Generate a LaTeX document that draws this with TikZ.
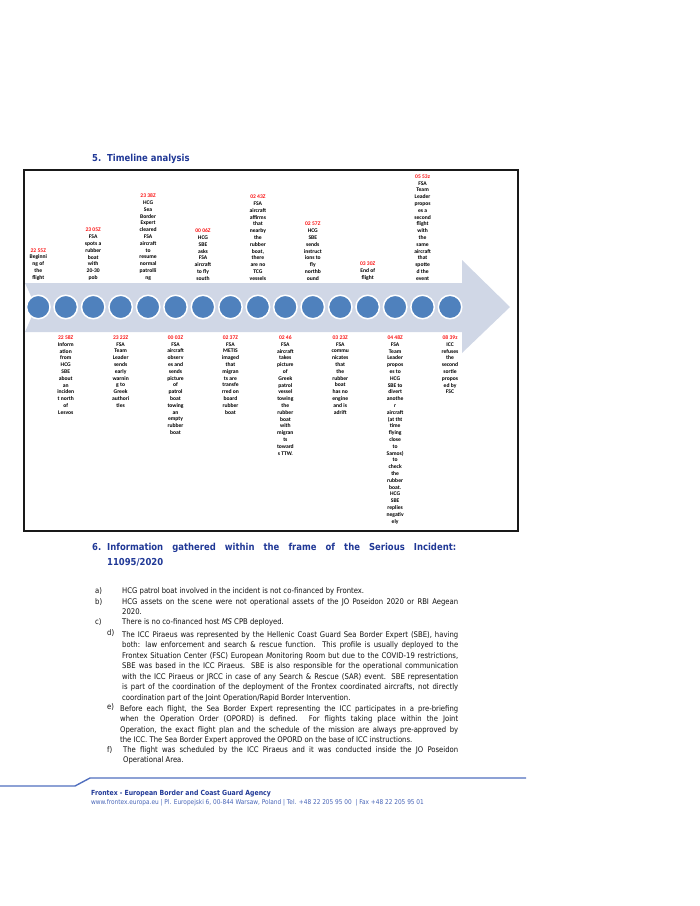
\documentclass[tikz,border=0pt]{standalone}
\usepackage{fontspec}
\setmainfont{DejaVu Sans}
\newfontfamily\bodyf[FakeStretch=0.88]{DejaVu Sans}
\newfontfamily\calib{Carlito}
\definecolor{fxblue}{RGB}{32,56,150}
\definecolor{footblue}{RGB}{80,110,190}
\definecolor{arrowc}{RGB}{208,215,230}
\definecolor{dotc}{RGB}{79,129,189}
\definecolor{tred}{RGB}{250,20,20}
\definecolor{bodyc}{RGB}{15,15,15}
\newcommand{\ts}[1]{\textcolor{tred}{#1}}
\begin{document}
\begin{tikzpicture}[x=1pt,y=-1pt,
  heading/.style={font=\bodyf\bfseries\fontsize{9.6}{12}\selectfont, text=fxblue, inner sep=0, anchor=base west},
  frame/.style={draw=black!90, line width=1.6pt},
  dot/.style={circle, fill=dotc, draw=white, line width=1.5pt, minimum size=23.5pt, inner sep=0},
  lbl/.style={font=\calib\bfseries\fontsize{5.6}{6.8}\selectfont, align=center, inner sep=0, text=black},
  uplbl/.style={lbl, anchor=south},
  dnlbl/.style={lbl, anchor=north},
  body/.style={font=\bodyf\fontsize{7.8}{10}\selectfont, text=bodyc, inner sep=0, anchor=base west},
  footl/.style={draw=footblue, line width=1.4pt},
  foot/.style={font=\bodyf\fontsize{6.6}{8}\selectfont, text=fxblue, inner sep=0, anchor=base west}
]
\useasboundingbox (0,0) rectangle (700,906);

% heading 5
\node[heading] (h5n) at (92,161) {5.};
\node[heading] (h5t) at (107,161) {Timeline analysis};

% frame
\draw[frame] (24,170) rectangle (518,531);

% arrow
\path[fill=arrowc] (25,283) -- (462,283) -- (462,260) -- (510,307) -- (462,353) -- (462,332) -- (25,332) -- (36,307) -- cycle;

% circles
\foreach \i in {1,...,16} {
  \node[dot] (c\i) at ({38.3+27.45*(\i-1)},307) {};
}

% upper labels
\node[uplbl] (l1) at (38.3,280.5) {\ts{22 55Z}\\Beginni\\ng of\\the\\flight};
\node[uplbl] (l3) at (93.2,280.5) {\ts{23 05Z}\\FSA\\spots a\\rubber\\boat\\with\\20-30\\pob};
\node[uplbl] (l5) at (148.1,280.5) {\ts{23 38Z}\\HCG\\Sea\\Border\\Expert\\cleared\\FSA\\aircraft\\to\\resume\\normal\\patrolli\\ng};
\node[uplbl] (l7) at (203.0,280.5) {\ts{00 06Z}\\HCG\\SBE\\asks\\FSA\\aircraft\\to fly\\south};
\node[uplbl] (l9) at (257.9,280.5) {\ts{02 43Z}\\FSA\\aircraft\\affirms\\that\\nearby\\the\\rubber\\boat,\\there\\are no\\TCG\\vessels};
\node[uplbl] (l11) at (312.8,280.5) {\ts{02 57Z}\\HCG\\SBE\\sends\\instruct\\ions to\\fly\\northb\\ound};
\node[uplbl] (l13) at (367.7,280.5) {\ts{03 30Z}\\End of\\flight};
\node[uplbl] (l15) at (422.6,280.5) {\ts{05 53z}\\FSA\\Team\\Leader\\propos\\es a\\second\\flight\\with\\the\\same\\aircraft\\that\\spotte\\d the\\event};

% lower labels
\node[dnlbl] (l2) at (65.75,335.5) {\ts{22 58Z}\\Inform\\ation\\from\\HCG\\SBE\\about\\an\\inciden\\t north\\of\\Lesvos};
\node[dnlbl] (l4) at (120.65,335.5) {\ts{23 22Z}\\FSA\\Team\\Leader\\sends\\early\\warnin\\g to\\Greek\\authori\\ties};
\node[dnlbl] (l6) at (175.55,335.5) {\ts{00 03Z}\\FSA\\aircraft\\observ\\es and\\sends\\picture\\of\\patrol\\boat\\towing\\an\\empty\\rubber\\boat};
\node[dnlbl] (l8) at (230.45,335.5) {\ts{02 37Z}\\FSA\\METIS\\imaged\\that\\migran\\ts are\\transfe\\rred on\\board\\rubber\\boat};
\node[dnlbl] (l10) at (285.35,335.5) {\ts{02 46}\\FSA\\aircraft\\takes\\picture\\of\\Greek\\patrol\\vessel\\towing\\the\\rubber\\boat\\with\\migran\\ts\\toward\\s TTW.};
\node[dnlbl] (l12) at (340.25,335.5) {\ts{03 23Z}\\FSA\\commu\\nicates\\that\\the\\rubber\\boat\\has no\\engine\\and is\\adrift};
\node[dnlbl] (l14) at (395.15,335.5) {\ts{04 48Z}\\FSA\\Team\\Leader\\propos\\es to\\HCG\\SBE to\\divert\\anothe\\r\\aircraft\\(at tht\\time\\flying\\close\\to\\Samos)\\to\\check\\the\\rubber\\boat.\\HCG\\SBE\\replies\\negativ\\ely};
\node[dnlbl] (l16) at (450.05,335.5) {\ts{08 39z}\\ICC\\refuses\\the\\second\\sortie\\propos\\ed by\\FSC};

% heading 6
\node[heading] (h6n) at (92,550.5) {6.};
\node[heading] (h6a) at (107,550.5) {\makebox[349pt][s]{Information gathered within the frame of the Serious Incident:}};
\node[heading] (h6b) at (107,565.5) {11095/2020};

% items
\node[body] (ia) at (95,593.8) {a)};
\node[body] (ta1) at (122,593.8) {HCG patrol boat involved in the incident is not co-financed by Frontex.};
\node[body] (ib) at (95,604) {b)};
\node[body] (tb1) at (122,604) {\makebox[336pt][s]{HCG assets on the scene were not operational assets of the JO Poseidon 2020 or RBI Aegean}};
\node[body] (tb2) at (122,614.3) {2020.};
\node[body] (ic) at (95,624.8) {c)};
\node[body] (tc1) at (122,624.8) {There is no co-financed host \textit{MS} CPB deployed.};
\node[body] (id) at (107,635.5) {d)};
\node[body] (td1) at (122,637.3) {\makebox[336pt][s]{The ICC Piraeus was represented by the Hellenic Coast Guard Sea Border Expert (SBE), having}};
\node[body] (td2) at (122,647.8) {\makebox[336pt][s]{both: law enforcement and search \& rescue function. This profile is usually deployed to the}};
\node[body] (td3) at (122,658.3) {\makebox[336pt][s]{Frontex Situation Center (FSC) European \textit{M}onitoring Room but due to the COVID-19 restrictions,}};
\node[body] (td4) at (122,668.8) {\makebox[336pt][s]{SBE was based in the ICC Piraeus. SBE is also responsible for the operational communication}};
\node[body] (td5) at (122,679.3) {\makebox[336pt][s]{with the ICC Piraeus or JRCC in case of any Search \& Rescue (SAR) event. SBE representation}};
\node[body] (td6) at (122,689.8) {\makebox[336pt][s]{is part of the coordination of the deployment of the Frontex coordinated aircrafts, not directly}};
\node[body] (td7) at (122,700.3) {coordination part of the Joint Operation/Rapid Border Intervention.};
\node[body] (ie) at (107,709.8) {e)};
\node[body] (te1) at (120,711.6) {\makebox[338pt][s]{Before each flight, the Sea Border Expert representing the ICC participates in a pre-briefing}};
\node[body] (te2) at (120,721.9) {\makebox[338pt][s]{when the Operation Order (OPORD) is defined. For flights taking place within the Joint}};
\node[body] (te3) at (120,732.2) {\makebox[338pt][s]{Operation, the exact flight plan and the schedule of the mission are always pre-approved by}};
\node[body] (te4) at (120,742.3) {the ICC. The Sea Border Expert approved the OPORD on the base of ICC instructions.};
\node[body] (if) at (107,752.4) {f)};
\node[body] (tf1) at (123,752.4) {\makebox[335pt][s]{The flight was scheduled by the ICC Piraeus and it was conducted inside the JO Poseidon}};
\node[body] (tf2) at (123,762.6) {Operational Area.};

% footer
\draw[footl] (0,786) -- (75,786) -- (90,778) -- (526,778);
\node[foot, font=\bodyf\bfseries\fontsize{7}{8}\selectfont] (fa) at (91,795.5) {Frontex - European Border and Coast Guard Agency};
\node[foot, text=footblue!80!fxblue] (fb) at (91,804.5) {www.frontex.europa.eu | Pl. Europejski 6, 00-844 Warsaw, Poland | Tel. +48 22 205 95 00 \ | Fax +48 22 205 95 01};
\end{tikzpicture}
\end{document}
